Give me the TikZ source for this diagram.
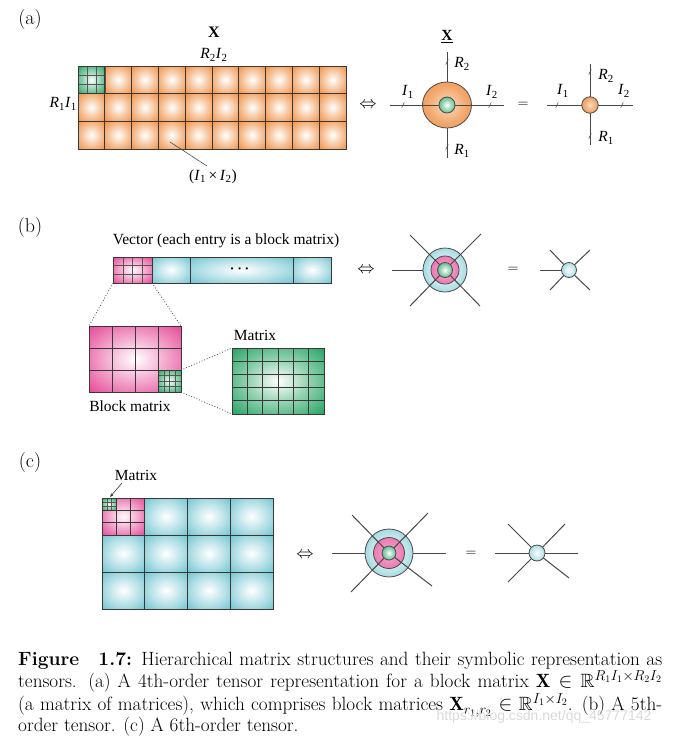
\documentclass[tikz,border=0pt]{standalone}
\usepackage{amsmath,amssymb}
\usepackage{fontspec}
\newfontfamily\dfont{Liberation Serif}
\newfontfamily\wfont{Liberation Sans}
\usetikzlibrary{arrows.meta,shapes.geometric,calc}
\definecolor{myor}{RGB}{238,138,58}
\definecolor{mygr}{RGB}{22,158,88}
\definecolor{mycy}{RGB}{85,185,200}
\definecolor{mypk}{RGB}{226,50,138}
\definecolor{gridc}{RGB}{60,55,55}
\pgfdeclareradialshading{orsh}{\pgfpointorigin}{color(0bp)=(white); color(18bp)=(myor!50!white); color(38bp)=(myor); color(50bp)=(myor)}
\pgfdeclareradialshading{grsh}{\pgfpointorigin}{color(0bp)=(white); color(16bp)=(mygr!45!white); color(38bp)=(mygr); color(50bp)=(mygr)}
\pgfdeclareradialshading{cysh}{\pgfpointorigin}{color(0bp)=(white); color(20bp)=(mycy!45!white); color(42bp)=(mycy); color(50bp)=(mycy)}
\pgfdeclareradialshading{pksh}{\pgfpointorigin}{color(0bp)=(white); color(18bp)=(mypk!45!white); color(40bp)=(mypk); color(50bp)=(mypk)}
\pgfdeclareradialshading{orball}{\pgfpointorigin}{color(0bp)=(myor!30!white); color(20bp)=(myor!75!white); color(40bp)=(myor); color(50bp)=(myor)}
\pgfdeclareradialshading{grball}{\pgfpointorigin}{color(0bp)=(white); color(18bp)=(mygr!50!white); color(40bp)=(mygr); color(50bp)=(mygr)}
\pgfdeclareradialshading{cyball}{\pgfpointorigin}{color(0bp)=(white); color(20bp)=(mycy!40!white); color(45bp)=(mycy); color(50bp)=(mycy)}
\pgfdeclareradialshading{pkball}{\pgfpointorigin}{color(0bp)=(mypk!40!white); color(30bp)=(mypk!70!white); color(50bp)=(mypk!90!white)}
% grid lines: x0 y0 x1 y1 cols rows style
\newcommand\mygrid[7]{%
  \pgfmathsetmacro\gw{(#3-#1)/#5}\pgfmathsetmacro\gh{(#4-#2)/#6}%
  \pgfmathtruncatemacro\nc{#5-1}\pgfmathtruncatemacro\nr{#6-1}%
  \foreach \k in {1,...,\nc}{\draw[#7] ({#1+\k*\gw},#2) -- ({#1+\k*\gw},#4);}%
  \foreach \k in {1,...,\nr}{\draw[#7] (#1,{#2+\k*\gh}) -- (#3,{#2+\k*\gh});}%
  \draw[#7] (#1,#2) rectangle (#3,#4);}
% shaded cells: x0 y0 x1 y1 cols rows shading
\newcommand\mycells[7]{%
  \pgfmathsetmacro\gw{(#3-#1)/#5}\pgfmathsetmacro\gh{(#4-#2)/#6}%
  \foreach \i in {1,...,#5}{\foreach \j in {1,...,#6}{%
    \shade[shading=#7] ({#1+(\i-1)*\gw},{#2+(\j-1)*\gh}) rectangle ({#1+\i*\gw},{#2+\j*\gh});}}}
\newcommand\tck[2]{\draw[tickst] ({#1-1.3},{#2+2.6}) -- ({#1+1.3},{#2-2.6});}
\newcommand\sbs[2]{\textit{#1}\textsubscript{#2}}
\tikzset{
  gline/.style={draw=gridc, line width=0.8pt},
  fline/.style={draw=gridc!85, line width=0.45pt},
  leg/.style={draw=black!72, line width=1pt},
  tickst/.style={draw=black!70, line width=0.5pt},
  lbl/.style={font=\dfont\fontsize{15.5}{17}\selectfont, inner sep=0},
  plbl/.style={font=\fontsize{20}{22}\selectfont, inner sep=0},
  sym/.style={font=\fontsize{19}{20}\selectfont, inner sep=0},
  eqs/.style={font=\fontsize{15}{16}\selectfont, inner sep=0},
  dotl/.style={dotted, line width=0.8pt, black!75},
  ring/.style={circle, shade, draw=black!70, line width=0.8pt, inner sep=0},
}
\begin{document}
\begin{tikzpicture}[x=1pt,y=-1pt]
\useasboundingbox (0,0) rectangle (676,737);
% ================= (a) =================
\node[plbl] (la) at (30,20) {(a)};
\node[lbl, font=\dfont\bfseries\fontsize{16}{17}\selectfont] (xa) at (214,32) {X};
\node[lbl] (r2i2) at (214,55) {\sbs{R}{2}\sbs{I}{2}};
\node[lbl, anchor=east] (r1i1) at (77,104) {\sbs{R}{1}\sbs{I}{1}};
\mycells{78}{66}{346}{149}{10}{3}{orsh}
\shade[shading=grsh] (78,66) rectangle (104.8,93.67);
\mygrid{78}{66}{104.8}{93.67}{3}{3}{fline}
\mygrid{78}{66}{346}{149}{10}{3}{gline}
\coordinate (ca) at (170,142);
\node[lbl] (ia) at (213,177) {(\sbs{I}{1}\,×\,\sbs{I}{2})};
\draw[black!70, line width=0.6pt] (ca) -- (207,166);
\node[sym] (eqa) at (368,105) {$\Leftrightarrow$};
% big tensor
\node[lbl] (xu) at (447,37) {\bfseries\underline{X}};
\coordinate (al) at (390,105); \coordinate (ar) at (504,105);
\coordinate (at) at (447,52); \coordinate (ab) at (447,158);
\node[ellipse, shade, draw=black!70, line width=0.8pt, inner sep=0, shading=orball, minimum width=49pt, minimum height=46pt] (ta) at (447,105) {};
\draw[leg] (al) -- (ar);
\draw[leg] (at) -- (ta.north); \draw[leg] (ta.south) -- (ab);
\node[ring, shading=grball, minimum size=16pt] (tag) at (447,105) {};
\tck{403}{105}\tck{490}{105}\tck{447}{62}\tck{447}{147}
\node[lbl] (ai1) at (408,92) {\sbs{I}{1}};
\node[lbl] (ai2) at (492,92) {\sbs{I}{2}};
\node[lbl] (ar2) at (462,64) {\sbs{R}{2}};
\node[lbl] (ar1) at (462,151) {\sbs{R}{1}};
\node[eqs] (eqa2) at (523,105) {$=$};
% small tensor
\coordinate (sl) at (547,105); \coordinate (sr) at (633,105);
\coordinate (st) at (590,64); \coordinate (sb) at (590,145);
\draw[leg] (sl) -- (sr); \draw[leg] (st) -- (sb);
\node[ring, shading=orball, minimum size=16.5pt] (tas) at (590,105) {};
\tck{557}{105}\tck{622}{105}\tck{590}{72}\tck{590}{136}
\node[lbl] (si1) at (563,91) {\sbs{I}{1}};
\node[lbl] (si2) at (624,91) {\sbs{I}{2}};
\node[lbl] (sr2) at (606,76) {\sbs{R}{2}};
\node[lbl] (sr1) at (606,138) {\sbs{R}{1}};
% ================= (b) =================
\node[plbl] (lb) at (30,228) {(b)};
\node[lbl] (vec) at (226,241) {Vector (each entry is a block matrix)};
\shade[shading=pksh] (113,257) rectangle (152,283);
\mygrid{113}{257}{152}{283}{4}{3}{fline}
\shade[shading=cysh] (152,257) rectangle (190,283);
\shade[shading=cysh] (190,257) rectangle (293,283);
\shade[shading=cysh] (293,257) rectangle (331,283);
\draw[gline] (113,257) rectangle (331,283);
\draw[gline] (152,257) -- (152,283); \draw[gline] (190,257) -- (190,283); \draw[gline] (293,257) -- (293,283);
\node[font=\bfseries\fontsize{14}{14}\selectfont, inner sep=0] (vdots) at (241,269) {$\boldsymbol{\cdots}$};
\coordinate (v1) at (113,283); \coordinate (v2) at (152,283);
% block matrix
\shade[shading=pksh] (89,326) rectangle (181,392);
\shade[shading=grsh] (158,370) rectangle (181,392);
\mygrid{158}{370}{181}{392}{4}{4}{fline}
\mygrid{89}{326}{181}{392}{4}{3}{gline}
\coordinate (b1) at (89,326); \coordinate (b2) at (181,326);
\coordinate (g1) at (181,370); \coordinate (g2) at (181,392);
\draw[dotl] (v1) -- (b1); \draw[dotl] (v2) -- (b2);
\node[lbl] (blk) at (130,406) {Block matrix};
% matrix
\shade[shading=grsh] (232,348) rectangle (324,414);
\mygrid{232}{348}{324}{414}{6}{5}{gline}
\coordinate (m1) at (232,348); \coordinate (m2) at (232,414);
\draw[dotl] (g1) -- (m1); \draw[dotl] (g2) -- (m2);
\node[lbl] (mat) at (255,335) {Matrix};
\node[sym] (eqb) at (366,270) {$\Leftrightarrow$};
% tensor b
\node[ring, shading=cyball, minimum size=44pt] (tb) at (445,270) {};
\node[ring, shading=pkball, minimum size=28pt] (tbp) at (445,270) {};
\coordinate (bl) at (392,270);
\coordinate (bul) at (410,235); \coordinate (bur) at (481,234);
\coordinate (bll) at (410,306); \coordinate (blr) at (480,306);
\draw[leg] (bl) -- (tb.west);
\foreach \p in {bul,bur,bll,blr}{\draw[leg] ($(445,270)!7.5pt!(\p)$) -- (\p);}
\node[ring, shading=grball, minimum size=15pt] (tbg) at (445,270) {};
\node[eqs] (eqb2) at (513,270) {$=$};
\coordinate (cl) at (540,270);
\coordinate (cul) at (550,250); \coordinate (cur) at (590,250);
\coordinate (cll) at (550,290); \coordinate (clr) at (590,290);
\draw[leg] (cl) -- (569,270);
\foreach \p in {cul,cur,cll,clr}{\draw[leg] (569,270) -- (\p);}
\node[ring, shading=cyball, minimum size=15pt] (tbs) at (569,270) {};
% ================= (c) =================
\node[plbl] (lc) at (30,463) {(c)};
\mycells{102}{498}{273}{609}{4}{3}{cysh}
\shade[shading=pksh] (102,498) rectangle (144.75,535);
\shade[shading=grsh] (102,498) rectangle (116.25,510.33);
\mygrid{102}{498}{116.25}{510.33}{3}{3}{fline}
\mygrid{102}{498}{144.75}{535}{3}{3}{gline}
\mygrid{102}{498}{273}{609}{4}{3}{gline}
\node[lbl] (matc) at (136,475) {Matrix};
\coordinate (mc) at (110,497);
\draw[-{Stealth[length=4pt,width=3pt]}, black!80, line width=0.6pt] (122,483) -- (mc);
\node[sym] (eqc) at (305,555) {$\Leftrightarrow$};
\node[ring, shading=cyball, minimum size=48pt] (tc) at (389,553) {};
\node[ring, shading=pkball, minimum size=31pt] (tcp) at (389,553) {};
\coordinate (dl) at (332,553); \coordinate (dr) at (446,553);
\coordinate (dul) at (352,515); \coordinate (dur) at (428,513);
\coordinate (dll) at (351,592); \coordinate (dlr) at (432,586);
\draw[leg] (dl) -- (tc.west); \draw[leg] (tc.east) -- (dr);
\foreach \p in {dul,dur,dll,dlr}{\draw[leg] ($(389,553)!7pt!(\p)$) -- (\p);}
\node[ring, shading=grball, minimum size=14pt] (tcg) at (389,553) {};
\node[eqs] (eqc2) at (471,554) {$=$};
\coordinate (el) at (495,553); \coordinate (er) at (578,553);
\coordinate (eul) at (508,524); \coordinate (eur) at (565,524);
\coordinate (ell) at (508,582); \coordinate (elr) at (569,578);
\draw[leg] (el) -- (er);
\foreach \p in {eul,eur,ell,elr}{\draw[leg] (537,553) -- (\p);}
\node[ring, shading=cyball, minimum size=16pt] (tcs) at (537,553) {};
% ================= caption =================
\node[anchor=north west, inner sep=0, text width=644pt, align=justify,
      font=\fontsize{19.2}{21}\selectfont] (cap) at (18,652)
 {\textbf{Figure\quad 1.7:} Hierarchical matrix structures and their symbolic representation as\linebreak
 tensors. (a) A 4th-order tensor representation for a block matrix $\mathbf{X}\in\mathbb{R}^{R_1I_1\times R_2I_2}$\linebreak
 (a matrix of matrices), which comprises block matrices $\mathbf{X}_{r_1,r_2}\in\mathbb{R}^{I_1\times I_2}$. (b) A 5th-\linebreak
 order tensor. (c) A 6th-order tensor.};
\node[font=\wfont\fontsize{14}{16}\selectfont, text=gray!30, inner sep=0] (wm) at (544,717) {https://blog.csdn.net/qq\_45777142};
\end{tikzpicture}
\end{document}
